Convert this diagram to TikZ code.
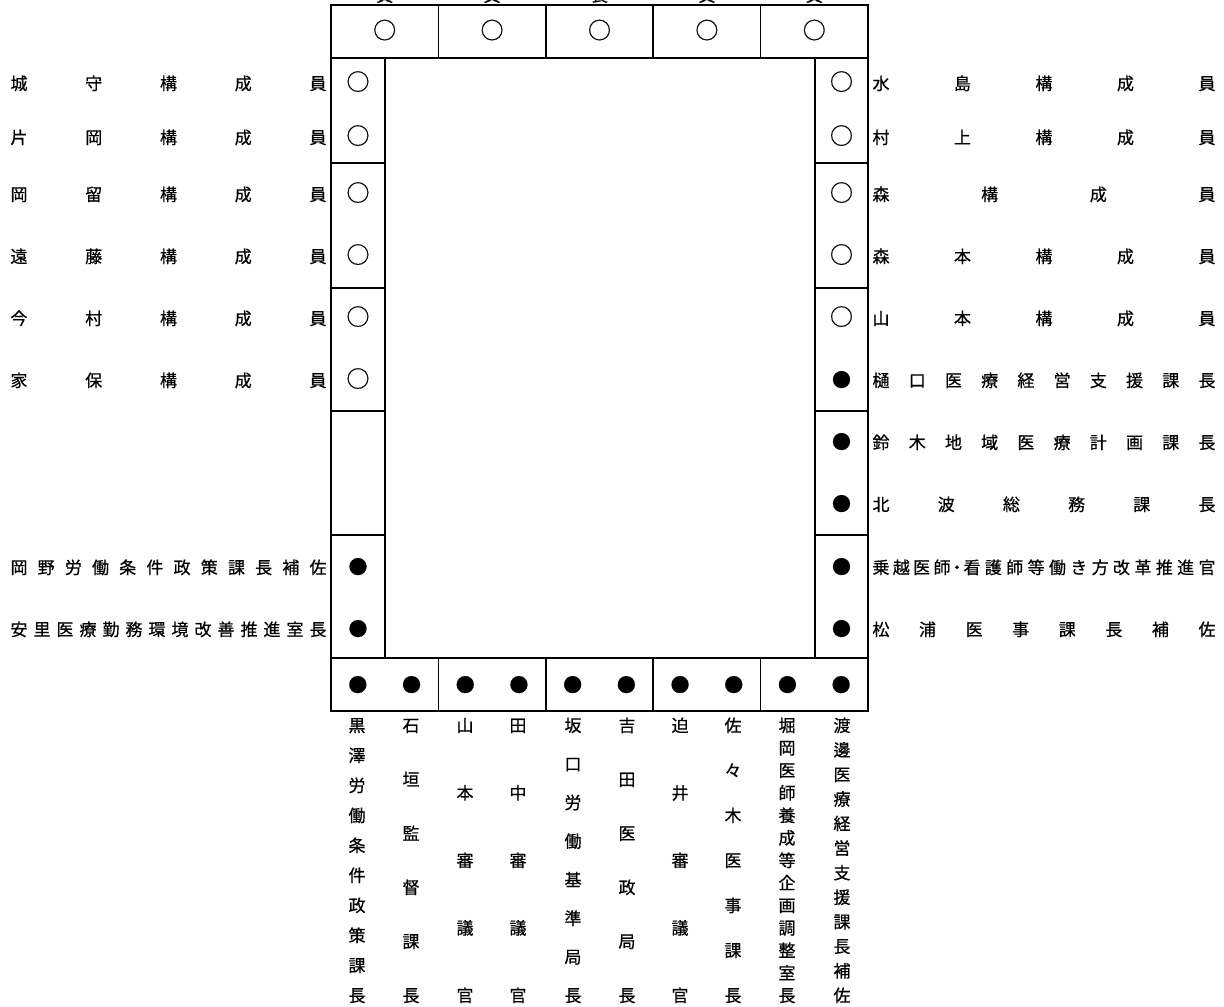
\documentclass[tikz,border=0pt]{standalone}
\usepackage{fontspec}
\newfontfamily\jpfont[FakeBold=0.6]{Noto Sans CJK JP}
\newcommand\myhlab[6]{\foreach \c [count=\i] in {#6} {\node[ch] (#1-\i) at ({#3+(\i-1)*(#4-#3)/(#5-1)},#2) {\c};}}
\newcommand\myvlab[6]{\foreach \c [count=\i] in {#6} {\node[ch] (#1-\i) at (#2,{#3+(\i-1)*(#4-#3)/(#5-1)}) {\c};}}
\begin{document}
\begin{tikzpicture}[x=1pt,y=-1pt,
  frame/.style={line width=1.6pt, line cap=rect},
  ch/.style={inner sep=0pt, yshift=-3pt, font=\jpfont\fontsize{17}{17}\selectfont, text height=0.88em, text depth=0.12em},
  mko/.style={inner sep=0pt, yshift=-3.5pt, font=\jpfont\fontsize{23}{23}\selectfont, text height=0.88em, text depth=0.12em},
  mkf/.style={inner sep=0pt, yshift=-3pt, font=\jpfont\fontsize{19}{19}\selectfont, text height=0.88em, text depth=0.12em}]
\useasboundingbox (0,0) rectangle (1224,1007);
% frame
\draw[frame] (331,5) rectangle (868,711);
\draw[frame] (385,58) rectangle (815,658);
\draw[frame] (331,58) -- (868,58);
\draw[frame] (331,658) -- (868,658);
\foreach \x in {438.4,545.8,653.2,760.6} {
  \draw[frame] (\x,5) -- (\x,58);
  \draw[frame] (\x,658) -- (\x,711);
}
\foreach \y in {163,288,411,535} {
  \draw[frame] (331,\y) -- (385,\y);
  \draw[frame] (815,\y) -- (868,\y);
}
% cut-off labels above the top row
\foreach \x/\c [count=\i] in {384.7/員,492.1/員,599.5/長,706.9/員,814.3/員}
  \node[ch, yshift=3pt, anchor=base] (tn\i) at (\x,1.5) {\c};
% marks
\foreach \x [count=\i] in {384.7,492.1,599.5,706.9,814.3}
  \node[mko] (top\i) at (\x,31.5) {○};
\foreach \y [count=\i] in {83,137,194,256,318,380}
  \node[mko] (lm\i) at (358,\y) {○};
\node[mkf] (lm7) at (358,567) {●};
\node[mkf] (lm8) at (358,629) {●};
\foreach \y [count=\i] in {83,137,194,256,318}
  \node[mko] (rm\i) at (841.5,\y) {○};
\foreach \y [count=\i from 6] in {380,442,504,567,629}
  \node[mkf] (rm\i) at (841.5,\y) {●};
\foreach \i in {1,...,10}
  \node[mkf] (bm\i) at ({331+53.7*(\i-0.5)},685) {●};
% left labels
\myhlab{L1}{83}{19}{318}{5}{城,守,構,成,員}
\myhlab{L2}{137}{19}{318}{5}{片,岡,構,成,員}
\myhlab{L3}{194}{19}{318}{5}{岡,留,構,成,員}
\myhlab{L4}{256}{19}{318}{5}{遠,藤,構,成,員}
\myhlab{L5}{318}{19}{318}{5}{今,村,構,成,員}
\myhlab{L6}{380}{19}{318}{5}{家,保,構,成,員}
\myhlab{L7}{567}{19}{318}{12}{岡,野,労,働,条,件,政,策,課,長,補,佐}
\myhlab{L8}{629}{19}{318}{14}{安,里,医,療,勤,務,環,境,改,善,推,進,室,長}
% right labels
\myhlab{R1}{83}{881}{1207}{5}{水,島,構,成,員}
\myhlab{R2}{137}{881}{1207}{5}{村,上,構,成,員}
\myhlab{R3}{194}{881}{1207}{4}{森,構,成,員}
\myhlab{R4}{256}{881}{1207}{5}{森,本,構,成,員}
\myhlab{R5}{318}{881}{1207}{5}{山,本,構,成,員}
\myhlab{R6}{380}{881}{1207}{10}{樋,口,医,療,経,営,支,援,課,長}
\myhlab{R7}{442}{881}{1207}{10}{鈴,木,地,域,医,療,計,画,課,長}
\myhlab{R8}{504}{881}{1207}{6}{北,波,総,務,課,長}
\myhlab{R9a}{567}{881}{942}{4}{乗,越,医,師}
\node[ch] (R9dot) at (957,567) {・};
\myhlab{R9b}{567}{972}{1207}{12}{看,護,師,等,働,き,方,改,革,推,進,官}
\myhlab{R10}{629}{881}{1207}{8}{松,浦,医,事,課,長,補,佐}
% bottom vertical labels
\myvlab{B1}{357}{725}{995}{10}{黒,澤,労,働,条,件,政,策,課,長}
\myvlab{B2}{411}{725}{995}{6}{石,垣,監,督,課,長}
\myvlab{B3}{465}{725}{995}{5}{山,本,審,議,官}
\myvlab{B4}{518}{725}{995}{5}{田,中,審,議,官}
\myvlab{B5}{573}{725}{995}{8}{坂,口,労,働,基,準,局,長}
\myvlab{B6}{627}{725}{995}{6}{吉,田,医,政,局,長}
\myvlab{B7}{680}{725}{995}{5}{迫,井,審,議,官}
\myvlab{B8}{733}{725}{995}{7}{佐,々,木,医,事,課,長}
\myvlab{B9}{787}{725}{995}{13}{堀,岡,医,師,養,成,等,企,画,調,整,室,長}
\myvlab{B10}{842}{725}{995}{12}{渡,邊,医,療,経,営,支,援,課,長,補,佐}
\end{tikzpicture}
\end{document}
